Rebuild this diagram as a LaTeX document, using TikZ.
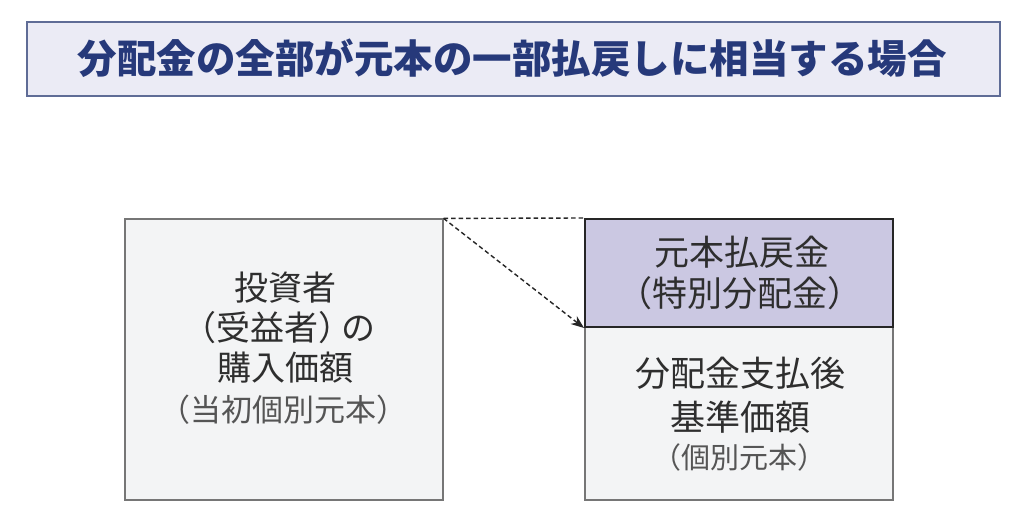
\documentclass[tikz,border=0pt]{standalone}
\usepackage{fontspec}
\setmainfont{Noto Sans CJK JP}
\usetikzlibrary{arrows.meta}
\definecolor{titlefill}{HTML}{EBEBF5}
\definecolor{titleline}{HTML}{5F6C96}
\definecolor{titletext}{HTML}{26397A}
\definecolor{boxfill}{HTML}{F3F4F5}
\definecolor{boxline}{HTML}{767676}
\definecolor{purplefill}{HTML}{CBC8E2}
\definecolor{textdark}{HTML}{2E2E2E}
\definecolor{textsub}{HTML}{555555}
\newcommand{\lpar}{\kern-0.25em（}
\newcommand{\rpar}{）\kern-0.25em}
\tikzset{
  titlebox/.style={draw=titleline, line width=1.4pt, fill=titlefill, minimum width=973pt, minimum height=74pt, inner sep=0pt},
  graybox/.style={draw=boxline, line width=1.2pt, fill=boxfill, inner sep=0pt},
  purplebox/.style={draw=black!85, line width=2pt, fill=purplefill, inner sep=0pt},
  lefttext/.style={text=textdark, font=\fontsize{34}{40}\selectfont, inner sep=0pt},
  righttext/.style={text=textdark, font=\fontsize{35}{40}\selectfont, inner sep=0pt},
  leftsub/.style={text=textsub, font=\fontsize{31}{36}\selectfont, inner sep=0pt},
  rightsub/.style={text=textsub, font=\fontsize{29}{34}\selectfont, inner sep=0pt},
  dashconn/.style={black!85, line width=1.4pt, dash pattern=on 4.5pt off 3pt}
}
\begin{document}
\begin{tikzpicture}[x=1pt,y=-1pt]
\useasboundingbox[fill=white] (0,0) rectangle (1024,527);
\node[titlebox] (title) at (513.5,59) {};
\node[text=titletext, font=\fontsize{39.5}{44}\selectfont\bfseries, inner sep=0pt] (titletxt) at (512,58) {分配金の全部が元本の一部払戻しに相当する場合};
% left box
\node[graybox, minimum width=318pt, minimum height=281pt] (L) at (284,359.5) {};
\node[lefttext] (l1) at (285,288) {投資者};
\node[lefttext] (l2) at (284,328) {\kern-0.3em（受益者）\kern-0.3em の};
\node[lefttext] (l3) at (285,368) {購入価額};
\node[leftsub] (l4) at (283,410) {（当初個別元本）};
% right box
\node[graybox, minimum width=308pt, minimum height=173pt] (RB) at (739,413.5) {};
\node[purplebox, minimum width=308pt, minimum height=108pt] (RT) at (739,273) {};
\node[righttext] (r1) at (742,252) {元本払戻金};
\node[righttext] (r2) at (740,293) {\lpar 特別分配金\rpar};
\node[righttext] (r3) at (740,373) {分配金支払後};
\node[righttext] (r4) at (740,417) {基準価額};
\node[rightsub] (r5) at (739,457) {\lpar 個別元本\rpar};
% connectors
\draw[dashconn] (L.north east) -- (RT.north west);
\draw[dashconn, -{Stealth[length=13pt,width=10pt]}] (L.north east) -- (RT.south west);
\end{tikzpicture}
\end{document}
